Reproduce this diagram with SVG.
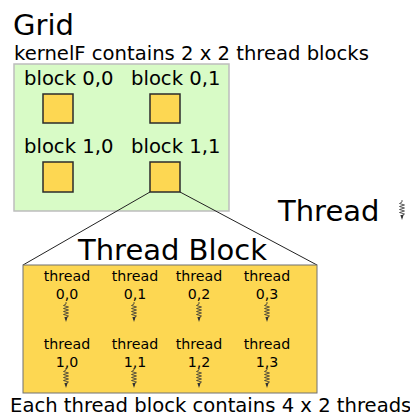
<svg xmlns="http://www.w3.org/2000/svg" xmlns:xlink="http://www.w3.org/1999/xlink" width="410" height="416" viewBox="0 0 410 416">
  <style>
    text { font-family: "DejaVu Sans", "Liberation Sans", sans-serif; fill: #000; }
    .title { font-size: 29px; }
    .label { font-size: 19.6px; }
    .thread { font-size: 14.2px; text-anchor: middle; }
    .grid { fill: #d8fbc6; stroke: #bdbdbd; stroke-width: 1.5; }
    .blk { fill: #fdd752; stroke: #2b2b2b; stroke-width: 1.5; }
    .tblock { fill: #fdd752; stroke: #707070; stroke-width: 1; }
    .zoom { stroke: #222; stroke-width: 1; fill: none; }
    .sq { fill: none; stroke: #333; stroke-width: 0.8; }
    .sqhead { fill: #333; }
  </style>
  <defs>
    <!-- wavy thread arrow, origin at its top centre -->
    <g id="squiggle">
      <path class="sq" d="M0,0 v2 l-2.5,1.5 l5,1.5 l-5,1.5 l5,1.5 l-5,1.5 l5,1.5 l-5,1.5 l5,1.5 l-2.5,1.5 v2.5"/>
      <path class="sqhead" d="M-1.6,15 L0,20 L1.6,15 Z"/>
    </g>
  </defs>

  <g id="grid">
    <text class="title" x="13" y="35">Grid</text>
    <text class="label" x="14" y="60">kernelF contains 2 x 2 thread blocks</text>
    <rect class="grid" x="14" y="64" width="215" height="147"/>
  </g>

  <g id="block-0-0">
    <text class="label" x="24" y="85">block 0,0</text>
    <rect class="blk" x="43" y="94" width="30" height="29"/>
  </g>
  <g id="block-0-1">
    <text class="label" x="131" y="85">block 0,1</text>
    <rect class="blk" x="150" y="94" width="30" height="29"/>
  </g>
  <g id="block-1-0">
    <text class="label" x="24" y="153">block 1,0</text>
    <rect class="blk" x="43" y="162" width="30" height="30"/>
  </g>
  <g id="block-1-1">
    <text class="label" x="131" y="153">block 1,1</text>
    <rect class="blk" x="150" y="162" width="30" height="30"/>
  </g>

  <g id="thread-legend">
    <text class="title" x="278" y="221">Thread</text>
    <use xlink:href="#squiggle" x="402" y="200"/>
  </g>

  <g id="connectors">
    <line class="zoom" x1="150" y1="192" x2="23" y2="265"/>
    <line class="zoom" x1="180" y1="192" x2="317" y2="265"/>
  </g>

  <g id="thread-block">
    <text class="title" x="78" y="260">Thread Block</text>
    <rect class="tblock" x="23" y="265" width="294" height="128"/>
  </g>

  <g id="thread-0-0">
    <text class="thread" x="67" y="281">thread</text>
    <text class="thread" x="67" y="299">0,0</text>
    <use xlink:href="#squiggle" x="66" y="302"/>
  </g>
  <g id="thread-0-1">
    <text class="thread" x="135" y="281">thread</text>
    <text class="thread" x="135" y="299">0,1</text>
    <use xlink:href="#squiggle" x="134" y="302"/>
  </g>
  <g id="thread-0-2">
    <text class="thread" x="199" y="281">thread</text>
    <text class="thread" x="199" y="299">0,2</text>
    <use xlink:href="#squiggle" x="199" y="302"/>
  </g>
  <g id="thread-0-3">
    <text class="thread" x="267" y="281">thread</text>
    <text class="thread" x="267" y="299">0,3</text>
    <use xlink:href="#squiggle" x="267" y="302"/>
  </g>
  <g id="thread-1-0">
    <text class="thread" x="67" y="349">thread</text>
    <text class="thread" x="67" y="367">1,0</text>
    <use xlink:href="#squiggle" x="66" y="368"/>
  </g>
  <g id="thread-1-1">
    <text class="thread" x="135" y="349">thread</text>
    <text class="thread" x="135" y="367">1,1</text>
    <use xlink:href="#squiggle" x="134" y="368"/>
  </g>
  <g id="thread-1-2">
    <text class="thread" x="199" y="349">thread</text>
    <text class="thread" x="199" y="367">1,2</text>
    <use xlink:href="#squiggle" x="199" y="368"/>
  </g>
  <g id="thread-1-3">
    <text class="thread" x="267" y="349">thread</text>
    <text class="thread" x="267" y="367">1,3</text>
    <use xlink:href="#squiggle" x="267" y="368"/>
  </g>

  <g id="caption">
    <text class="label" x="10" y="412">Each thread block contains 4 x 2 threads</text>
  </g>
</svg>
